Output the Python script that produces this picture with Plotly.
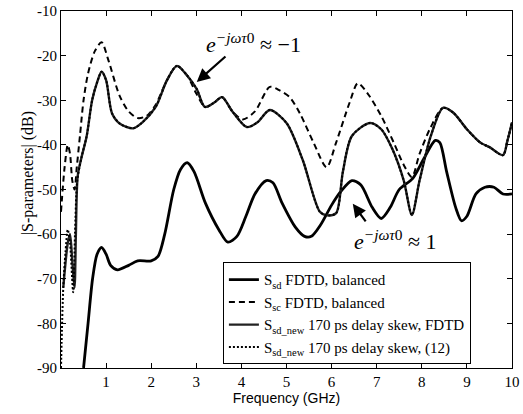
import plotly.graph_objects as go

# Ssd FDTD, balanced (lower solid)
ssd_x = [0.5, 0.6, 0.7, 0.8, 0.9, 1.0, 1.1, 1.25, 1.5, 1.7, 2.0, 2.15, 2.3, 2.5, 2.65, 2.8, 2.95, 3.2, 3.5, 3.7, 3.9, 4.1, 4.3, 4.55, 4.7, 4.9, 5.2, 5.4, 5.55, 5.75, 6.0, 6.2, 6.45, 6.65, 6.9, 7.1, 7.3, 7.5, 7.8, 8.05, 8.3, 8.4, 8.55, 8.75, 8.88, 9.0, 9.2, 9.4, 9.6, 9.8, 10.0]
ssd_y = [-90, -80, -70, -64.5, -63, -64.5, -67, -68, -67, -66, -66, -65, -60, -50, -45.5, -44, -46, -53, -59, -61.8, -60.5, -56, -51, -48, -48.5, -53, -58.5, -60.5, -60.5, -58, -53.5, -50.5, -48, -49, -54, -56.5, -54, -50, -47.5, -43, -39, -39.5, -46, -54, -57, -56, -51, -49.5, -49.5, -51, -51]

# Ssc FDTD, balanced (dashed)
ssc_x = [0.0, 0.08, 0.15, 0.2, 0.25, 0.3, 0.35, 0.42, 0.5, 0.6, 0.75, 0.9, 1.05, 1.3, 1.5, 1.7, 1.9, 2.1, 2.35, 2.57, 2.8, 3.0, 3.2, 3.4, 3.57, 3.8, 4.03, 4.3, 4.63, 4.85, 5.07, 5.3, 5.6, 5.89, 6.1, 6.4, 6.58, 6.8, 7.1, 7.4, 7.6, 7.78, 7.95, 8.2, 8.47, 8.7, 9.0, 9.3, 9.5, 9.8, 9.9, 10.0]
ssc_y = [-55, -45, -40, -42, -48, -50, -45, -38, -30, -24, -19, -17, -21, -29, -32.5, -34, -33.5, -31, -25.5, -22.3, -24.5, -28.5, -31.5, -30.5, -29.3, -32.5, -34.3, -32.5, -27, -27.8, -29.3, -33, -39.5, -45, -39.5, -30.5, -26.2, -28.5, -33.5, -40, -44.5, -47.2, -42, -36, -31.7, -32.8, -36.5, -39.5, -40.5, -42.3, -39, -35]

# Ssd_new 170 ps delay skew, FDTD (upper solid)
new_x = [0.05, 0.15, 0.2, 0.25, 0.3, 0.33, 0.37, 0.45, 0.57, 0.69, 0.8, 0.9, 1.0, 1.13, 1.3, 1.6, 1.8, 2.1, 2.35, 2.57, 2.8, 3.01, 3.19, 3.4, 3.57, 3.8, 4.12, 4.35, 4.63, 5.0, 5.36, 5.74, 5.9, 6.1, 6.25, 6.45, 6.85, 7.1, 7.35, 7.6, 7.78, 7.95, 8.2, 8.47, 8.7, 9.0, 9.3, 9.5, 9.8, 9.9, 10.0]
new_y = [-72, -62, -60, -66, -72, -60, -47, -43, -38, -30, -26, -23.6, -25.5, -32.9, -35.2, -36.3, -35, -31.5, -25.5, -22.3, -24.5, -27.5, -31.5, -30.5, -29.3, -32.5, -36, -35, -32.2, -35.1, -43.4, -55, -55.8, -55.3, -46, -38, -35.1, -36.5, -41, -48, -55.7, -48, -38, -31.7, -32.8, -36.5, -39.5, -40.5, -42.3, -39, -35]

# Ssd_new 170 ps delay skew, (12) (dotted)
eq_x = [0.0, 0.05, 0.1, 0.15, 0.2, 0.27, 0.31, 0.36, 0.45, 0.57, 0.69, 0.8, 0.9, 1.0, 1.13, 1.3, 1.6, 1.8, 2.1, 2.35, 2.57, 2.8, 3.01, 3.19, 3.4, 3.57, 3.8, 4.12, 4.35, 4.63, 5.0, 5.36, 5.74, 5.9, 6.1, 6.25, 6.45, 6.85, 7.1, 7.35, 7.6, 7.78, 7.95, 8.2, 8.47, 8.7, 9.0, 9.3, 9.5, 9.8, 9.9, 10.0]
eq_y = [-90, -72, -64, -59, -62, -73, -60, -48, -43, -38, -30, -26, -23.6, -25.5, -32.9, -35.2, -36.3, -35, -31.5, -25.5, -22.3, -24.5, -27.5, -31.5, -30.5, -29.3, -32.5, -36, -35, -32.2, -35.1, -43.4, -55, -55.8, -55.3, -46, -38, -35.1, -36.5, -41, -48, -55.7, -48, -38, -31.7, -32.8, -36.5, -39.5, -40.5, -42.3, -39, -35]

x_ticks = [1, 2, 3, 4, 5, 6, 7, 8, 9, 10]
y_ticks = [-90, -80, -70, -60, -50, -40, -30, -20, -10]

names = [
    "S<sub>sd</sub> FDTD, balanced",
    "S<sub>sc</sub> FDTD, balanced",
    "S<sub>sd_new</sub> 170 ps delay skew, FDTD",
    "S<sub>sd_new</sub> 170 ps delay skew, (12)",
]

fig = go.Figure()
fig.add_trace(go.Scatter(x=ssd_x, y=ssd_y, mode="lines", name=names[0],
                         line=dict(color="black", width=2.8, shape="spline", smoothing=0.8)))
fig.add_trace(go.Scatter(x=ssc_x, y=ssc_y, mode="lines", name=names[1],
                         line=dict(color="black", width=2, dash="6px,4px", shape="spline", smoothing=0.8)))
fig.add_trace(go.Scatter(x=new_x, y=new_y, mode="lines", name=names[2],
                         line=dict(color="#222", width=2.4, shape="spline", smoothing=0.8)))
fig.add_trace(go.Scatter(x=eq_x, y=eq_y, mode="lines", name=names[3],
                         line=dict(color="black", width=2, dash="2px,2px", shape="spline", smoothing=0.8)))

serif = "Liberation Serif"
fig.add_annotation(x=3.01, y=-25.9, ax=3.68, ay=-19.9, axref="x", ayref="y",
                   showarrow=True, arrowhead=2, arrowsize=1.2, arrowwidth=2.2, arrowcolor="black", text="")
fig.add_annotation(x=6.47, y=-53.2, ax=6.78, ay=-57.5, axref="x", ayref="y",
                   showarrow=True, arrowhead=2, arrowsize=1.2, arrowwidth=2.2, arrowcolor="black", text="")
fig.add_annotation(x=4.27, y=-17.2, showarrow=False,
                   text="<i>e</i><sup><i>−jωτ</i>0</sup> ≈ −1",
                   font=dict(family=serif, size=22, color="black"))
fig.add_annotation(x=7.42, y=-61.3, showarrow=False,
                   text="<i>e</i><sup><i>−jωτ</i>0</sup> ≈ 1",
                   font=dict(family=serif, size=22, color="black"))
# y-axis title (sits a little above the axis centre, as in the original)
fig.add_annotation(xref="paper", yref="paper", x=-0.073, y=0.546,
                   xanchor="center", yanchor="middle", showarrow=False,
                   text="|S-parameters| (dB)", textangle=-90,
                   font=dict(family=serif, size=16, color="black"))

fig.update_layout(
    width=523, height=414,
    margin=dict(l=61, r=11, t=11, b=46, autoexpand=False),
    paper_bgcolor="white", plot_bgcolor="white",
    showlegend=True,
    legend=dict(x=0.359, y=0.296, xanchor="left", yanchor="top",
                bgcolor="white", bordercolor="black", borderwidth=1,
                font=dict(family=serif, size=15, color="black"),
                tracegroupgap=0, itemwidth=30),
    font=dict(family=serif, color="black"),
)
fig.update_xaxes(range=[0, 10], tickvals=x_ticks, ticktext=[str(v) for v in x_ticks],
                 ticks="inside", ticklen=5, tickcolor="black", mirror="ticks", automargin=False,
                 showline=True, linecolor="black", linewidth=1, showgrid=False, zeroline=False,
                 tickfont=dict(family=serif, size=15, color="black"),
                 title=dict(text="Frequency (GHz)", standoff=2,
                            font=dict(family="Liberation Sans", size=14, color="black")))
fig.update_yaxes(range=[-90, -10], tickvals=y_ticks, ticktext=[str(v) for v in y_ticks],
                 ticks="inside", ticklen=5, tickcolor="black", mirror="ticks", automargin=False,
                 showline=True, linecolor="black", linewidth=1, showgrid=False, zeroline=False,
                 tickfont=dict(family=serif, size=15, color="black"))

fig.write_html("out.html", config={"displayModeBar": False},
               post_script="document.body.style.margin='0px';")
